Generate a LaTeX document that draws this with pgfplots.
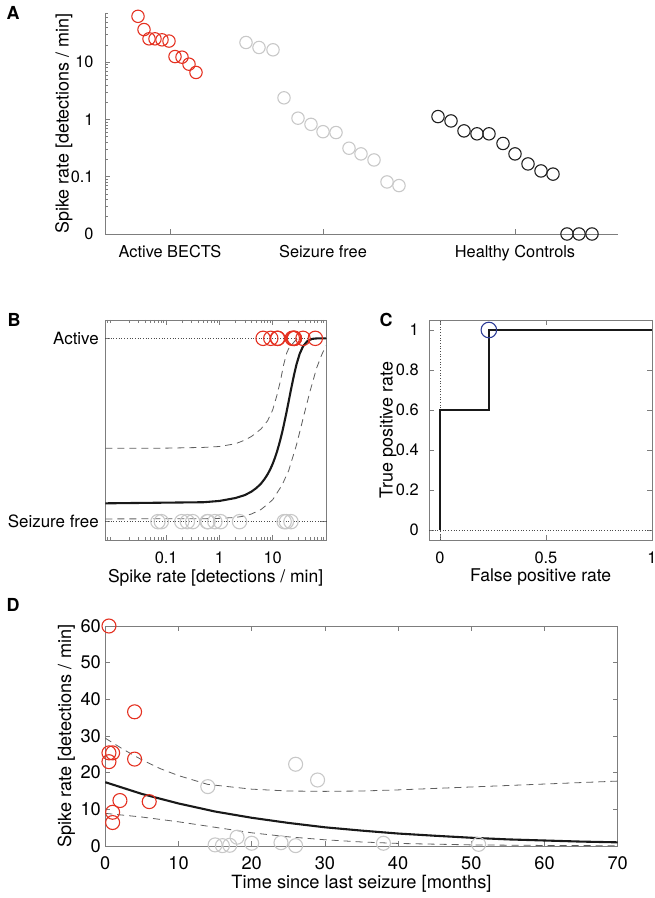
\documentclass[border=0pt]{standalone}
\usepackage{fontspec}
\setmainfont{TeX Gyre Heros}
\usepackage{pgfplots}
\pgfplotsset{compat=1.18}

\definecolor{actred}{RGB}{228,48,32}
\definecolor{sfgray}{RGB}{200,200,200}
\definecolor{hcblack}{RGB}{30,30,30}
\definecolor{rocblue}{RGB}{45,60,150}
\definecolor{axgray}{RGB}{125,125,125}
\definecolor{dashgray}{RGB}{95,95,95}

\newcommand{\fs}[1]{\fontsize{#1}{#1}\selectfont}

\pgfplotsset{
  panel/.style={
    scale only axis, clip=false, anchor=south west,
    axis line style={axgray, line width=0.8pt},
    tick style={axgray, line width=0.6pt},
    tick align=inside,
    major tick length=5bp, minor tick length=3bp,
    tick label style={black},
    /pgf/number format/assume math mode=true,
  },
  dots/.style={only marks, mark=o, line width=1.1pt},
  fit/.style={black!90, line width=2.1pt, no marks},
  band/.style={dashgray, line width=0.8pt, dash pattern=on 7bp off 5bp, no marks},
  guide/.style={black!70, line width=0.7pt, dotted, no marks},
}

\begin{document}
\begin{tikzpicture}
\path[use as bounding box] (0bp,0bp) rectangle (655bp,898bp);

% ---------- A ----------
\begin{axis}[panel, at={(105bp,664bp)}, width=513bp, height=221bp,
  axis x line*=bottom, axis y line*=left, axis line style={-},
  xmin=0, xmax=513, ymode=log, ymin=0.01, ymax=72,
  xtick={65,218,410}, xticklabels={Active BECTS, Seizure free, Healthy Controls},
  ytick={0.01,0.1,1,10}, yticklabels={0,0.1,1,10},
  minor ytick={0.02,0.03,0.04,0.05,0.06,0.07,0.08,0.09,0.2,0.3,0.4,0.5,0.6,0.7,0.8,0.9,2,3,4,5,6,7,8,9,20,30,40,50,60,70},
  ylabel={Spike rate [detections / min]},
  ylabel style={font=\fs{18}, at={(axis description cs:-0.080,0.5)}, anchor=center},
  xticklabel style={font=\fs{16.4}, yshift=-8bp},
  yticklabel style={font=\fs{16.4}, xshift=-8bp},
]
\addplot[dots, actred, mark size=6.2bp] table {
33 63
39 37
44 25.5
50 25.5
57 24.5
64 23.3
70 12.5
77 12.2
84 9.2
91 6.6
};
\addplot[dots, sfgray, mark size=6.2bp] table {
141 22.0
154 18.0
168 16.4
179 2.38
193 1.05
206 0.82
218 0.61
231 0.59
244 0.314
256 0.25
269 0.196
282 0.081
294 0.070
};
\addplot[dots, hcblack, mark size=6.2bp] table {
333 1.12
346 0.94
359 0.63
372 0.56
384 0.56
398 0.38
410 0.25
423 0.167
436 0.126
448 0.111
462 0.01
474 0.01
487 0.01
};
\end{axis}

% ---------- B ----------
\begin{axis}[panel, at={(105.3bp,358bp)}, width=220.7bp, height=220bp,
  xmode=log, xmin=0.0072, xmax=100, ymin=-0.1, ymax=1.1,
  xtick={0.1,1,10}, xticklabels={0.1,1,10},
  minor xtick={0.008,0.009,0.02,0.03,0.04,0.05,0.06,0.07,0.08,0.09,0.2,0.3,0.4,0.5,0.6,0.7,0.8,0.9,2,3,4,5,6,7,8,9,20,30,40,50,60,70,80,90},
  ytick={0,1}, yticklabels={Seizure free, Active},
  xtick pos=both, ytick pos=both,
  xlabel={Spike rate [detections / min]},
  xlabel style={font=\fs{17.6}, at={(axis description cs:0.5,-0.17)}, anchor=center},
  xticklabel style={font=\fs{16.5}, yshift=-8bp},
  yticklabel style={font=\fs{17}, xshift=-3bp},
]
\addplot[guide] coordinates {(0.0072,1) (100,1)};
\addplot[guide] coordinates {(0.0072,0) (100,0)};
\addplot[band] coordinates {
(0.0072,0.400) (0.1,0.401) (0.5,0.405) (1,0.41) (2,0.425) (3,0.445) (4,0.465)
(6,0.505) (8,0.55) (10,0.61) (12,0.69) (14,0.77) (16,0.855) (18.3,0.92) (20,0.945)
(22.7,0.965) (26,0.985) (30,1.0)
};
\addplot[band] coordinates {
(0.0072,0.015) (0.5,0.016) (1,0.018) (2,0.023) (3,0.031) (4,0.042) (6,0.066)
(8,0.095) (10,0.12) (15,0.20) (20,0.28) (28,0.42) (40,0.60) (50,0.71)
(67,0.84) (83,0.91) (100,0.96)
};
\addplot[fit] coordinates {
(0.0072,0.100) (0.5,0.106) (1,0.113) (2,0.129) (3,0.145) (4,0.164) (5,0.185)
(6,0.207) (7,0.232) (8,0.258) (9,0.286) (10,0.316) (11,0.348) (12,0.381)
(13,0.416) (14,0.451) (15,0.486) (16,0.522) (18,0.592) (20,0.659) (22,0.720)
(25,0.798) (28,0.859) (32,0.915) (37,0.956) (45,0.986) (55,0.997) (70,1.0) (100,1.0)
};
\addplot[dots, actred, mark size=7.2bp] table {
63 1
37 1
25.5 1
25.5 1
24.5 1
23.3 1
12.5 1
12.2 1
9.2 1
6.6 1
};
\addplot[dots, sfgray, mark size=7.2bp] table {
22.0 0
18.0 0
16.4 0
2.38 0
1.05 0
0.82 0
0.61 0
0.59 0
0.314 0
0.25 0
0.196 0
0.081 0
0.070 0
};
\end{axis}

% ---------- C ----------
\begin{axis}[panel, at={(429.3bp,358bp)}, width=222.7bp, height=220bp,
  xmin=-0.05, xmax=1, ymin=-0.05, ymax=1.05,
  xtick={0,0.5,1}, ytick={0,0.2,0.4,0.6,0.8,1},
  xtick pos=both, ytick pos=both,
  xlabel={False positive rate}, ylabel={True positive rate},
  xlabel style={font=\fs{17.6}, at={(axis description cs:0.5,-0.17)}, anchor=center},
  ylabel style={font=\fs{18}, at={(axis description cs:-0.185,0.5)}, anchor=center},
  xticklabel style={font=\fs{16.5}, yshift=-8bp},
  yticklabel style={font=\fs{16.5}, xshift=-7bp},
]
\addplot[guide] coordinates {(-0.05,0) (1,0)};
\addplot[guide] coordinates {(0,-0.05) (0,1.05)};
\addplot[black!90, line width=2.3pt, no marks] coordinates {
(0,0) (0,0.6) (0.2308,0.6) (0.2308,1) (1,1)
};
\addplot[dots, rocblue, mark size=7.8bp] coordinates {(0.2308,1)};
\end{axis}

% ---------- D ----------
\begin{axis}[panel, at={(105.3bp,52bp)}, width=512.4bp, height=220bp,
  xmin=0, xmax=70, ymin=0, ymax=60,
  xtick={0,10,...,70}, ytick={0,10,...,60},
  xtick pos=both, ytick pos=both,
  xlabel={Time since last seizure [months]},
  ylabel={Spike rate [detections / min]},
  xlabel style={font=\fs{18.3}, at={(axis description cs:0.5,-0.173)}, anchor=center},
  ylabel style={font=\fs{18.2}, at={(axis description cs:-0.076,0.5)}, anchor=center},
  xticklabel style={font=\fs{18.3}, yshift=-7bp},
  yticklabel style={font=\fs{18.3}, xshift=-1bp},
]
\addplot[band] coordinates {
(0,29.4) (2.5,26.3) (5,23.5) (7.5,21.1) (10,19.2) (14,16.8) (20,15.5) (25,15.0)
(30,14.9) (35,15.0) (40,15.3) (50,16.1) (60,16.9) (70,17.7)
};
\addplot[band] coordinates {
(0,8.9) (5,7.9) (10,6.6) (15,5.1) (20,3.6) (25,2.5) (30,1.7) (35,1.1) (40,0.7)
(50,0.3) (60,0.15) (70,0.07)
};
\addplot[fit] coordinates {
(0,17.4) (5,14.2) (10,11.6) (15,9.4) (20,7.7) (25,6.3) (30,5.1) (35,4.2) (40,3.4)
(45,2.8) (50,2.25) (55,1.8) (60,1.5) (65,1.2) (70,1.0)
};
\addplot[dots, actred, mark size=7bp] table {
0.5 60
4 36.6
0.5 25.4
1 25.4
0.5 23.0
4 23.7
2 12.4
6 12.1
1 9.2
1 6.4
};
\addplot[dots, sfgray, mark size=7bp] table {
14 16.2
26 22.3
29 18.0
15 0.3
16 0.1
17 0.2
18 2.4
20 0.75
24 0.9
26 0.1
38 0.75
51 0.45
};
\end{axis}

\node[anchor=base west, font=\bfseries\fs{18}] at (3bp,878bp) {A};
\node[anchor=base west, font=\bfseries\fs{18}] at (4bp,571bp) {B};
\node[anchor=base west, font=\bfseries\fs{18}] at (376bp,571bp) {C};
\node[anchor=base west, font=\bfseries\fs{18}] at (3bp,286bp) {D};
\end{tikzpicture}
\end{document}
